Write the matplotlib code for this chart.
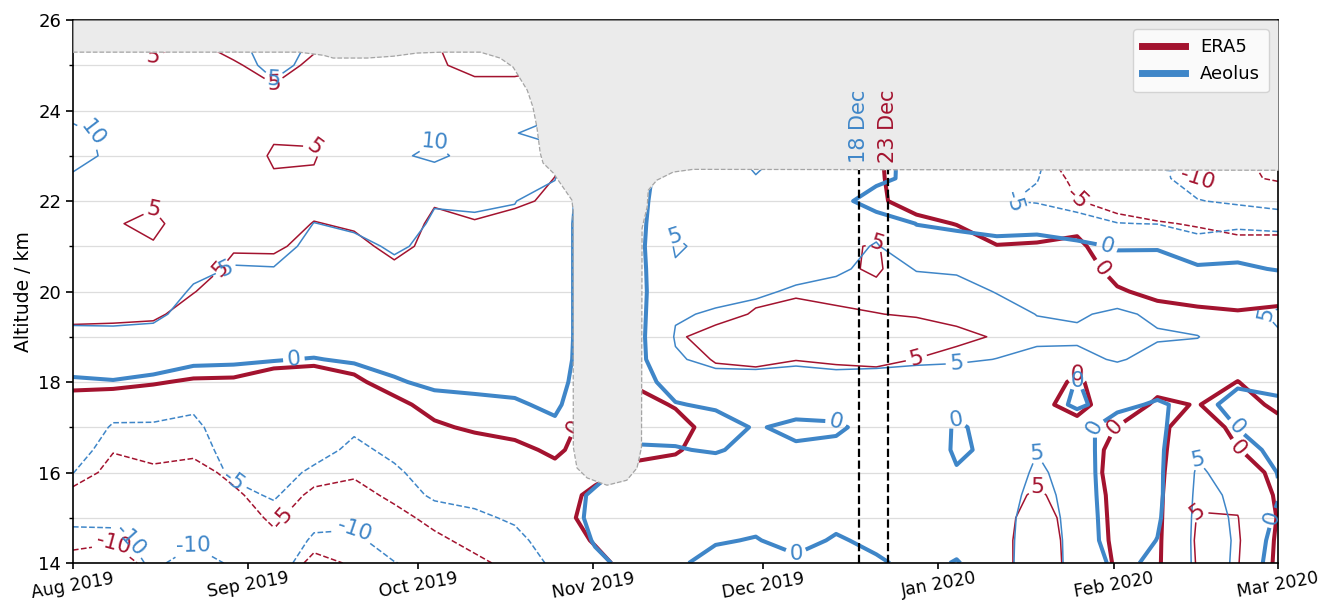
import numpy as np
import pandas as pd
import matplotlib
matplotlib.use("Agg")
import matplotlib.pyplot as plt
import matplotlib.dates as mdates
from matplotlib.lines import Line2D

ERA5_COLOR = "#a3132f"
AEOLUS_COLOR = "#3f86c8"

start = pd.Timestamp("2019-08-01")

# profile times (days after 1 Aug 2019), one profile every ~7 days up to 1 Mar 2020
profile_days = [0.0, 7.1, 14.2, 21.3, 28.4, 35.5, 42.6, 49.7, 56.8, 63.9, 71.0,
                78.1, 85.2, 92.3, 99.4, 106.5, 113.6, 120.7, 127.8, 134.9, 142.0,
                149.1, 156.2, 163.3, 170.4, 177.5, 184.6, 191.7, 198.8, 205.9, 213.0]
altitude_km = [14.0, 14.5, 15.0, 15.5, 16.0, 16.5, 17.0, 17.5, 18.0, 18.5, 19.0, 19.5,
               20.0, 20.5, 21.0, 21.5, 22.0, 22.5, 23.0, 23.5, 24.0, 24.5, 25.0, 25.5]

# zonal wind (m/s), one profile per time, bottom to top
era5_u = [
    [-12.0, -8.5, -7.0, -5.6, -4.0, -3.0, -2.0, -1.0, 0.6, 2.0, 3.8, 6.0, 7.0, 7.5, 7.5, 7.5, 7.5, 8.0, 8.5, 8.5, 8.0, 7.5, 7.0, 6.5],
    [-11.5, -9.7, -8.0, -6.8, -5.6, -4.9, -3.2, -1.6, 0.7, 2.5, 4.1, 5.6, 6.5, 7.0, 6.5, 5.3, 6.5, 7.5, 8.0, 8.0, 7.5, 7.0, 6.5, 6.0],
    [-9.0, -8.0, -7.5, -6.5, -5.6, -4.0, -2.8, -1.6, 0.2, 2.0, 3.8, 5.5, 6.3, 6.5, 5.3, 4.2, 5.5, 7.0, 7.5, 7.5, 7.0, 6.5, 5.6, 4.0],
    [-8.5, -7.8, -7.2, -6.6, -6.0, -4.4, -3.2, -2.0, -0.3, 1.6, 3.0, 3.9, 5.1, 6.5, 7.0, 7.0, 7.5, 7.5, 7.5, 7.5, 7.0, 6.5, 5.3, 5.2],
    [-8.5, -7.8, -6.8, -5.5, -4.3, -3.3, -2.4, -1.5, -0.3, 1.2, 2.2, 3.0, 3.6, 4.3, 5.3, 6.5, 7.0, 7.0, 7.0, 7.0, 6.5, 6.0, 5.3, 4.0],
    [-7.0, -5.8, -4.4, -3.6, -3.0, -2.5, -2.0, -1.4, -0.9, 0.6, 2.0, 3.0, 3.8, 4.4, 5.3, 6.2, 6.5, 5.3, 4.6, 5.4, 6.0, 5.2, 4.0, 3.0],
    [-11.0, -8.8, -7.2, -5.5, -4.1, -3.2, -2.5, -1.8, -1.0, 0.4, 1.5, 2.5, 3.2, 3.8, 4.4, 4.9, 5.8, 5.3, 4.8, 5.3, 6.0, 6.0, 5.5, 4.5],
    [-9.6, -8.4, -7.2, -6.0, -4.6, -3.6, -2.8, -1.8, -0.5, 1.0, 2.0, 2.8, 3.4, 4.0, 4.4, 5.3, 6.5, 7.0, 7.0, 7.0, 7.0, 7.0, 6.5, 6.0],
    [-8.5, -7.2, -5.9, -4.4, -3.4, -2.6, -1.8, -0.7, 1.1, 2.2, 3.0, 3.5, 4.0, 4.6, 5.6, 6.5, 7.0, 7.5, 7.5, 7.5, 7.5, 7.0, 6.5, 6.0],
    [-7.5, -5.6, -4.2, -3.2, -2.3, -1.6, -0.4, 0.9, 2.0, 2.8, 3.3, 3.7, 4.0, 4.2, 4.4, 4.5, 5.2, 6.5, 7.0, 7.0, 6.8, 6.0, 5.3, 5.1],
    [-5.6, -4.2, -3.4, -2.7, -2.0, -1.3, 0.4, 1.5, 2.3, 2.9, 3.3, 3.6, 3.9, 4.1, 4.3, 4.85, 5.7, 6.5, 7.0, 7.0, 6.5, 5.6, 4.4, 4.0],
    [-4.2, -3.5, -3.0, -2.5, -1.9, -0.7, 0.9, 2.0, 2.7, 3.2, 3.5, 3.8, 4.0, 4.2, 4.4, 4.6, 5.2, 6.5, 7.0, 7.0, 6.5, 5.5, 4.5, 4.0],
    [-3.5, -2.0, -1.3, -1.2, -0.8, 0.5, 1.2, 2.0, 2.6, 3.0, 3.4, 3.7, 4.0, 4.2, 4.4, 4.6, 4.8, 4.95, 5.6, 6.0, 6.0, 5.5, 4.9, 4.5],
    [-1.0, 0.3, 1.2, 0.6, -0.8, -1.5, -1.2, -0.2, 0.8, 1.8, 2.5, 3.0, 3.3, 3.6, 3.8, 4.0, 4.2, 4.4, 4.6, 4.8, 4.8, 4.8, 4.5, 4.5],
    [1.5, 2.0, 2.2, 1.8, 0.6, -0.6, -1.4, -0.9, 0.3, 1.5, 2.5, 3.2, 3.5, 3.7, 3.9, 4.1, 4.2, 4.3, 4.3, 4.3, 4.3, 4.3, 4.3, 4.3],
    [2.0, 2.5, 2.6, 2.4, 1.2, -0.3, -0.9, 0.2, 1.5, 3.0, 4.5, 3.5, 3.0, 3.0, 3.0, 3.0, 3.0, 3.0, 3.0, 3.0, 3.0, 3.0, 3.0, 3.0],
    [2.5, 2.8, 3.0, 3.0, 2.8, 1.5, 1.0, 1.6, 3.5, 5.3, 6.3, 3.8, 3.0, 2.8, 2.8, 2.8, 2.8, 2.8, 2.8, 2.8, 2.8, 2.8, 2.8, 2.8],
    [2.6, 2.8, 3.0, 3.0, 2.9, 2.7, 2.5, 2.6, 3.8, 5.6, 6.5, 5.3, 4.2, 3.5, 3.2, 3.0, 2.8, 2.8, 2.8, 2.8, 2.8, 2.8, 2.8, 2.8],
    [2.6, 2.8, 3.0, 3.0, 2.9, 2.8, 2.7, 3.0, 4.0, 5.05, 6.8, 6.2, 4.5, 3.6, 3.3, 3.0, 2.8, 2.8, 2.8, 2.8, 2.8, 2.8, 2.8, 2.8],
    [2.0, 2.5, 2.8, 2.9, 2.9, 2.8, 2.8, 3.0, 4.0, 5.3, 6.8, 5.5, 4.2, 4.4, 4.4, 3.8, 3.2, 2.8, 2.8, 2.8, 2.8, 2.8, 2.8, 2.8],
    [1.0, 2.0, 2.6, 2.9, 3.0, 3.0, 3.0, 3.2, 4.0, 5.5, 6.5, 5.05, 4.3, 5.4, 5.3, 3.0, 0.5, 0.8, 0.8, 0.8, 0.8, 0.8, 0.8, 0.8],
    [2.0, 2.6, 2.9, 3.0, 3.0, 3.0, 3.0, 3.2, 3.8, 4.95, 6.2, 4.8, 3.6, 3.0, 2.2, 0.8, -1.2, -3.0, -4.0, -4.0, -4.0, -4.0, -4.0, -4.0],
    [2.2, 2.8, 3.0, 3.1, 3.1, 3.0, 3.0, 3.1, 3.6, 4.2, 5.6, 4.3, 3.4, 2.6, 1.6, -0.1, -1.5, -3.2, -4.0, -4.0, -4.0, -4.0, -4.0, -4.0],
    [2.5, 3.0, 3.2, 3.2, 3.1, 3.0, 3.0, 3.0, 3.3, 3.8, 4.8, 4.0, 3.0, 1.8, 0.1, -1.5, -3.0, -4.0, -4.5, -4.5, -4.5, -4.5, -4.5, -4.5],
    [8.7, 8.0, 7.0, 5.6, 4.0, 3.0, 2.0, 0.6, 1.5, 2.5, 3.0, 3.0, 2.5, 1.6, 0.3, -1.5, -3.0, -3.0, -4.5, -4.5, -4.5, -4.5, -4.5, -4.5],
    [2.7, 2.9, 3.0, 3.0, 2.5, 2.0, 0.8, -0.8, -0.5, 1.0, 2.0, 2.5, 2.2, 1.5, 0.8, -1.0, -4.9, -5.8, -6.0, -6.0, -6.0, -6.0, -6.0, -6.0],
    [-0.4, -0.8, -1.0, -1.2, -1.5, -1.0, -0.05, 1.5, 2.2, 2.5, 2.2, 1.5, 0.3, -1.0, -2.5, -4.2, -6.0, -7.0, -7.5, -7.5, -7.5, -7.5, -7.5, -7.5],
    [-0.5, -0.6, -0.7, -0.7, -0.7, -0.8, -0.9, -0.4, 0.8, 1.8, 2.0, 1.0, -0.7, -2.2, -3.3, -4.8, -6.5, -8.0, -8.5, -8.5, -8.5, -8.5, -8.5, -8.5],
    [5.3, 5.5, 5.2, 4.4, 3.2, 2.6, 2.1, 0.1, 1.2, 1.8, 1.6, 0.5, -1.0, -2.6, -3.9, -5.2, -6.3, -10.1, -10.5, -10.5, -10.5, -10.5, -10.5, -10.5],
    [5.2, 5.4, 5.1, 4.2, 2.0, 0.1, -1.0, -1.2, -0.05, 1.2, 1.5, 0.3, -1.5, -3.0, -4.4, -5.6, -7.5, -9.5, -9.8, -9.8, -9.8, -9.8, -9.8, -9.8],
    [-0.8, -0.6, -0.2, -0.6, -1.0, -1.2, -0.9, 0.6, 1.4, 1.6, 1.3, 0.5, -0.9, -2.5, -4.5, -5.5, -8.0, -10.3, -10.5, -10.5, -10.5, -10.5, -10.5, -10.5],
]

aeolus_u = [
    [-13.0, -11.5, -9.0, -7.0, -4.95, -3.8, -2.8, -1.8, -0.4, 1.4, 3.4, 6.6, 7.5, 8.0, 8.0, 8.5, 9.0, 9.6, 11.0, 10.6, 9.2, 8.5, 8.0, 8.0],
    [-12.5, -11.0, -9.2, -8.0, -7.0, -6.2, -5.3, -3.8, -0.2, 2.0, 4.1, 6.0, 7.0, 7.5, 7.5, 8.0, 8.5, 9.0, 9.4, 9.4, 8.8, 8.2, 7.8, 7.5],
    [-9.3, -8.6, -8.0, -7.5, -7.0, -6.3, -5.4, -3.6, -0.8, 1.6, 3.8, 5.8, 7.0, 7.5, 7.5, 8.0, 8.0, 8.5, 8.8, 8.8, 8.5, 8.0, 7.5, 7.0],
    [-11.5, -9.5, -8.5, -7.8, -7.2, -6.6, -5.8, -4.4, -2.0, 0.8, 2.5, 3.6, 4.6, 5.8, 7.0, 7.5, 8.0, 8.5, 8.5, 8.5, 8.0, 7.5, 7.0, 6.5],
    [-9.5, -8.3, -7.3, -6.0, -4.4, -3.5, -2.8, -2.1, -1.0, 0.3, 1.6, 2.8, 3.8, 4.8, 6.0, 7.0, 7.5, 8.0, 8.0, 8.0, 7.5, 7.0, 6.5, 6.0],
    [-8.2, -7.4, -6.3, -4.6, -3.6, -3.0, -2.5, -1.9, -1.3, 0.1, 1.5, 2.8, 3.9, 4.9, 6.0, 7.0, 7.5, 8.0, 8.0, 7.5, 6.8, 5.6, 4.0, 3.0],
    [-12.0, -10.5, -9.0, -7.5, -5.6, -3.8, -2.8, -2.0, -1.2, -0.1, 1.2, 2.2, 3.0, 3.7, 4.3, 4.95, 6.0, 7.0, 7.5, 7.5, 7.0, 6.5, 6.0, 5.5],
    [-11.5, -10.6, -9.3, -8.0, -6.8, -5.7, -4.5, -3.0, -1.4, 0.3, 1.6, 2.6, 3.3, 3.9, 4.4, 5.4, 6.5, 7.5, 8.3, 8.3, 8.0, 7.5, 7.0, 6.5],
    [-10.1, -8.6, -7.4, -6.3, -5.5, -4.3, -3.2, -2.0, -0.4, 1.3, 2.4, 3.2, 3.8, 4.5, 5.3, 6.5, 7.5, 8.5, 9.5, 9.3, 8.5, 8.0, 7.5, 7.0],
    [-9.0, -7.8, -6.2, -4.6, -3.6, -2.9, -2.3, -1.4, 0.8, 2.0, 2.8, 3.4, 3.9, 4.2, 4.5, 4.6, 5.2, 8.5, 10.6, 9.6, 8.5, 8.0, 7.5, 7.0],
    [-7.5, -6.5, -5.4, -4.4, -3.5, -2.8, -2.1, -0.9, 1.0, 2.2, 3.0, 3.5, 3.9, 4.2, 4.5, 4.7, 5.3, 7.5, 9.0, 9.2, 8.5, 8.0, 7.5, 7.0],
    [-6.5, -5.6, -4.7, -3.8, -3.1, -2.4, -1.8, -0.5, 1.2, 2.3, 3.1, 3.6, 4.0, 4.3, 4.5, 4.7, 5.05, 7.5, 9.4, 9.9, 9.3, 8.5, 8.0, 7.5],
    [-4.5, -3.9, -3.3, -2.8, -2.3, -1.8, -0.8, 0.8, 2.0, 3.0, 3.3, 3.3, 3.3, 3.3, 3.3, 3.3, 4.0, 5.1, 9.0, 11.0, 9.5, 8.5, 8.0, 7.5],
    [-1.0, 0.4, 1.3, 0.8, -1.5, -3.0, -3.5, -4.0, -4.0, -4.0, -4.0, -4.0, -4.0, -4.0, -4.0, -4.0, -4.0, -4.0, -3.0, -1.0, 1.0, 2.0, 2.0, 2.0],
    [1.5, 2.2, 2.5, 2.5, 2.0, 0.4, -1.2, -1.7, -1.7, -1.7, -1.7, -1.7, -1.7, -1.7, -1.7, -1.7, -1.7, -1.7, -1.7, -1.0, 0.2, 1.0, 2.0, 2.0],
    [0.6, 1.5, 2.0, 2.2, 2.0, 0.2, -1.0, -0.2, 1.5, 4.6, 5.3, 4.7, 4.2, 4.6, 5.4, 4.5, 3.5, 2.5, 2.0, 2.0, 2.0, 2.0, 2.0, 2.0],
    [-1.2, 0.3, 1.5, 2.0, 1.8, -0.3, -1.5, 0.5, 3.5, 6.0, 6.5, 5.3, 4.2, 4.0, 4.0, 3.8, 3.5, 3.5, 3.5, 3.5, 3.5, 3.5, 3.5, 3.5],
    [-1.8, -0.2, 1.0, 1.8, 1.8, 1.0, 0.3, 1.2, 3.5, 6.2, 6.8, 6.0, 4.5, 3.8, 3.6, 3.5, 3.5, 4.8, 6.0, 4.0, 4.0, 4.0, 4.0, 4.0],
    [-0.8, 1.2, 2.0, 2.2, 1.8, 0.5, -0.8, 1.5, 3.8, 5.5, 7.0, 7.0, 5.4, 4.0, 3.6, 3.4, 3.5, 3.8, 4.0, 4.0, 4.0, 4.0, 4.0, 4.0],
    [-1.5, -0.4, 1.0, 1.8, 1.8, 0.8, -0.5, 1.5, 3.8, 6.0, 7.2, 7.2, 6.2, 4.4, 3.5, 3.0, 2.5, 2.0, 2.0, 2.0, 2.0, 2.0, 2.0, 2.0],
    [-0.5, 0.8, 2.0, 2.5, 2.4, 2.0, 1.2, 2.0, 3.5, 6.0, 7.0, 7.0, 6.5, 6.0, 5.3, 3.7, -3.4, 1.75, 2.0, 2.0, 2.0, 2.0, 2.0, 2.0],
    [1.0, 2.0, 2.5, 2.5, 2.4, 2.2, 2.0, 2.4, 3.6, 5.5, 6.5, 6.5, 5.8, 4.9, 2.0, -0.1, -1.5, -1.9, -2.0, -2.0, -2.0, -2.0, -2.0, -2.0],
    [-0.2, 1.0, 1.6, 1.0, 0.2, -0.4, -0.3, 0.6, 3.2, 5.4, 6.3, 6.5, 5.8, 4.7, 1.5, -0.7, -2.5, -3.5, -3.8, -3.8, -3.8, -3.8, -3.8, -3.8],
    [2.0, 2.2, 2.4, 1.8, 0.8, 0.6, 0.8, 1.8, 3.2, 4.95, 6.0, 5.9, 4.9, 3.5, 1.2, -1.5, -4.7, -4.5, -4.5, -4.5, -4.5, -4.5, -4.5, -4.5],
    [9.0, 8.5, 7.8, 7.0, 6.0, 4.8, 3.5, 1.0, 2.8, 4.2, 5.6, 4.95, 3.8, 2.4, 1.4, -1.3, -5.4, -4.9, -4.5, -4.5, -4.5, -4.5, -4.5, -4.5],
    [2.85, 3.0, 3.0, 2.8, 2.5, 2.0, 1.2, -0.3, -0.2, 4.2, 5.5, 4.7, 3.5, 2.2, 1.2, -3.5, -6.5, -7.0, -7.0, -7.0, -7.0, -7.0, -7.0, -7.0],
    [-1.0, -2.5, -2.8, -3.0, -3.0, -2.5, -1.5, 0.8, 2.8, 5.3, 6.5, 5.5, 3.5, 1.8, -0.4, -4.9, -7.5, -8.5, -9.0, -9.0, -9.0, -9.0, -9.0, -9.0],
    [0.8, 0.1, -0.6, -0.9, -0.9, -0.9, -0.9, -0.4, 1.5, 4.0, 5.3, 4.5, 3.0, 1.5, -0.3, -5.1, -8.5, -9.0, -9.5, -9.5, -9.5, -9.5, -9.5, -9.5],
    [5.8, 6.0, 6.0, 5.8, 5.5, 4.6, 3.0, 1.0, 2.0, 4.3, 5.05, 4.2, 2.8, 0.8, -3.8, -6.0, -9.8, -12.0, -12.0, -12.0, -12.0, -12.0, -12.0, -12.0],
    [4.8, 4.8, 4.7, 4.5, 3.5, 1.5, -0.1, -1.0, 0.4, 2.0, 4.0, 4.3, 3.5, 0.8, -2.0, -6.0, -10.8, -12.0, -12.0, -12.0, -12.0, -12.0, -12.0, -12.0],
    [-2.9, -2.0, -0.8, 0.3, -0.1, -1.0, -1.2, -0.5, 0.8, 3.0, 4.8, 5.3, 4.0, -0.3, -3.5, -5.8, -12.5, -13.0, -13.0, -13.0, -13.0, -13.0, -13.0, -13.0],
]

# upper edge of the usable data (no retrievals above it)
gap_days = [0.0, 40.0, 44.3, 46.0, 52.0, 56.6, 60.8, 65.2, 72.0, 75.5, 77.8, 80.3,
            81.3, 82.0, 82.6, 83.1, 84.9, 86.6, 88.2, 88.4, 88.45, 89.1, 90.9, 94.4,
            97.9, 99.7, 100.5, 100.6, 101.5, 101.7, 103.2, 106.1, 109.6, 213.0]
gap_top_km = [25.29, 25.29, 25.22, 25.16, 25.16, 25.20, 25.27, 25.29, 25.29, 25.16, 24.96, 24.45,
              24.08, 23.64, 23.06, 22.84, 22.62, 22.31, 22.02, 21.80, 16.56, 16.10, 15.88, 15.72,
              15.83, 16.10, 16.56, 21.40, 21.87, 22.24, 22.46, 22.64, 22.70, 22.68]

levels = [-10, -5, 0, 5, 10]
event_days = [139, 144]
event_labels = ["18 Dec", "23 Dec"]
event_colors = [AEOLUS_COLOR, ERA5_COLOR]


def to_num(days):
    return mdates.date2num(start + pd.to_timedelta(np.asarray(days), unit="D"))


fig = plt.figure(figsize=(13.24, 6.03), dpi=100)
ax = fig.add_axes([0.0551, 0.0663, 0.9101, 0.9005])

x = to_num(profile_days)
lw = [1.1, 1.1, 2.9, 1.1, 1.1]
styles = ["--", "--", "-", "-", "-"]
for u, color in [(era5_u, ERA5_COLOR), (aeolus_u, AEOLUS_COLOR)]:
    cs = ax.contour(x, altitude_km, np.array(u).T, levels=levels, colors=color,
                    linewidths=lw, linestyles=styles, zorder=2)
    ax.clabel(cs, fmt="%d", fontsize=15.5, inline=True, inline_spacing=4)

# missing data region
gx = to_num(gap_days)
ax.fill_between(gx, gap_top_km, 26, color="#ebebeb", zorder=4, lw=0)
ax.plot(gx, gap_top_km, ls="--", color="#a5a5a5", lw=0.9, zorder=4)

for d, lab, col in zip(event_days, event_labels, event_colors):
    top = np.interp(d, gap_days, gap_top_km)
    xd = to_num([d])[0]
    ax.plot([xd, xd], [14, top], color="black", ls="--", lw=1.6, zorder=5)
    ax.text(xd, top + 0.15, lab, rotation=90, ha="center", va="bottom",
            color=col, fontsize=15, zorder=6)

ax.set_xlim(to_num([0])[0], to_num([213])[0])
ax.set_ylim(14, 26)
ax.xaxis.set_major_locator(mdates.MonthLocator())
ax.xaxis.set_major_formatter(mdates.DateFormatter("%b %Y"))
ax.set_yticks(np.arange(14, 27, 2))
ax.set_yticks(np.arange(15, 26, 2), minor=True)
ax.grid(axis="y", which="both", color="#dddddd", lw=0.9, zorder=0)
ax.set_axisbelow(True)
ax.tick_params(axis="y", labelsize=13, length=5, width=1.2)
ax.tick_params(axis="x", labelsize=12.5, length=4, width=1.2, pad=0.5)
ax.tick_params(axis="y", which="minor", length=3, width=1.0)
for lab in ax.get_xticklabels():
    lab.set_rotation(10)
    lab.set_ha("center")
ax.set_ylabel("Altitude / km", fontsize=13.5)
for sp in ax.spines.values():
    sp.set_linewidth(1.2)

handles = [Line2D([], [], color=ERA5_COLOR, lw=5), Line2D([], [], color=AEOLUS_COLOR, lw=5)]
leg = ax.legend(handles, ["ERA5", "Aeolus"], loc="upper right", fontsize=13,
                handlelength=2.4, borderpad=0.5)
leg.set_zorder(10)

fig.savefig("out.png", dpi=100)
